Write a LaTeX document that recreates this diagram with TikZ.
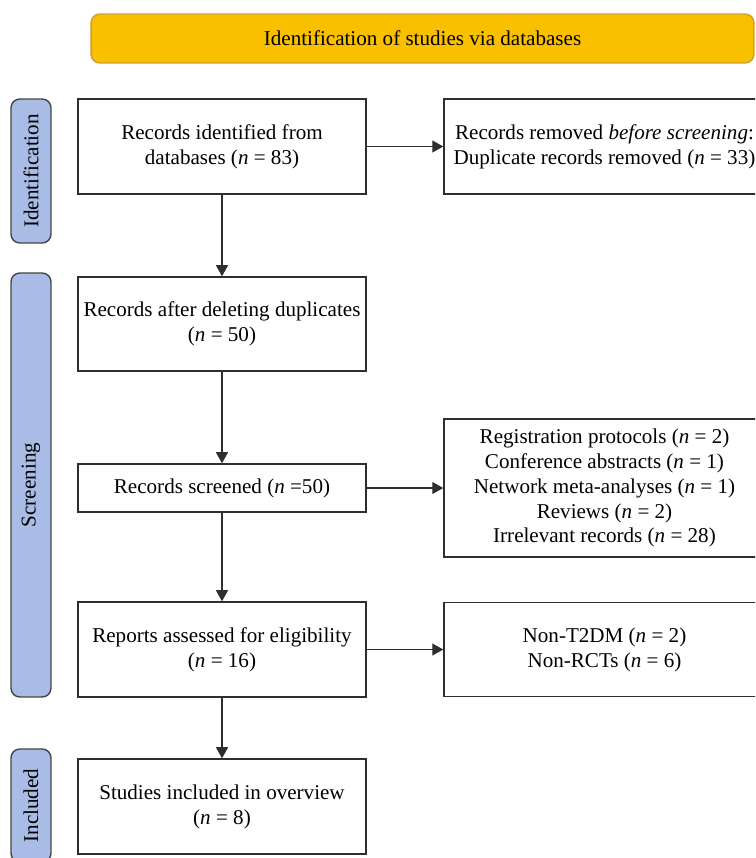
\documentclass[tikz,border=0pt]{standalone}
\usepackage{fontspec}
\setmainfont{Liberation Serif}
\usepackage{xcolor}
\usepackage{tikz}
\usetikzlibrary{arrows.meta,positioning}

\definecolor{bannerfill}{HTML}{F9C000}
\definecolor{bannerline}{HTML}{D09E2A}
\definecolor{sidefill}{HTML}{A8BCE6}
\definecolor{boxline}{HTML}{2E2E2E}

\begin{document}
\begin{tikzpicture}[
  x=0.02cm,y=-0.02cm,
  font=\fontsize{12pt}{14.2pt}\selectfont,
  box/.style={draw=boxline,line width=0.8pt,fill=white,align=center,inner sep=2pt},
  side/.style={draw=boxline!90,line width=0.8pt,fill=sidefill,rounded corners=5pt,rotate=90,minimum height=0.8cm,inner sep=0pt},
  arr/.style={draw=boxline,line width=0.8pt,-{Triangle[length=6.3pt,width=6.8pt]}}
]
\useasboundingbox (0,0) rectangle (755,858);
\clip (0,0) rectangle (755,858);

% title bar
\node[draw=bannerline,line width=0.8pt,fill=bannerfill,rounded corners=5pt,minimum width=13.26cm,minimum height=0.98cm] (T) at (422.5,38.5) {Identification of studies via databases};

% phase labels
\node[side,minimum width=2.88cm] (S1) at (31,171) {Identification};
\node[side,minimum width=8.48cm] (S2) at (31,485) {Screening};
\node[side,minimum width=2.26cm] (S3) at (31,805.5) {Included};

% main column
\node[box,minimum width=5.76cm,minimum height=1.9cm] (B1) at (222,146.5) {Records identified from\\databases (\textit{n} = 83)};
\node[box,minimum width=5.76cm,minimum height=1.88cm] (B2) at (222,324) {Records after deleting duplicates\\(\textit{n} = 50)};
\node[box,minimum width=5.76cm,minimum height=0.96cm] (B3) at (222,488) {Records screened (\textit{n} =50)};
\node[box,minimum width=5.76cm,minimum height=1.9cm] (B4) at (222,649.5) {Reports assessed for eligibility\\(\textit{n} = 16)};
\node[box,minimum width=5.76cm,minimum height=1.9cm] (B5) at (222,806.5) {Studies included in overview\\(\textit{n} = 8)};

% exclusions
\node[box,minimum width=6.42cm,minimum height=1.9cm] (R1) at (604.5,146.5) {Records removed \textit{before screening}:\\Duplicate records removed (\textit{n} = 33)};
\node[box,minimum width=6.42cm,minimum height=2.76cm] (R2) at (604.5,488) {Registration protocols (\textit{n} = 2)\\Conference abstracts (\textit{n} = 1)\\Network meta-analyses (\textit{n} = 1)\\Reviews (\textit{n} = 2)\\Irrelevant records (\textit{n} = 28)};
\node[box,minimum width=6.42cm,minimum height=1.88cm] (R3) at (604.5,649.5) {Non-T2DM (\textit{n} = 2)\\Non-RCTs (\textit{n} = 6)};

\draw[arr] (B1) -- (B2);
\draw[arr] (B2) -- (B3);
\draw[arr] (B3) -- (B4);
\draw[arr] (B4) -- (B5);
\draw[arr] (B1) -- (R1);
\draw[arr] (B3) -- (R2);
\draw[arr] (B4) -- (R3);
\end{tikzpicture}
\end{document}
